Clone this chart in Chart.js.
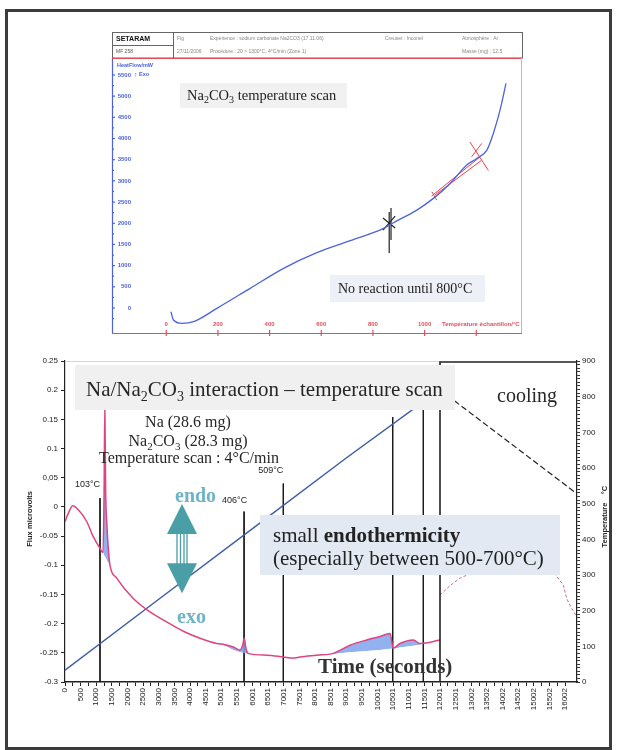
<!DOCTYPE html>
<html>
<head>
<meta charset="utf-8">
<title>Na/Na2CO3 interaction</title>
<script src="https://cdn.jsdelivr.net/npm/chart.js@4.4.1/dist/chart.umd.min.js"></script>
<style>
  html, body { margin: 0; padding: 0; background: #fff; }
  #page { position: relative; width: 620px; height: 750px; overflow: hidden; }
  #frame { position: absolute; left: 5px; top: 9px; width: 607px; height: 741px; border: 3px solid #3c3c3c; box-sizing: border-box; }
  #topChart { position: absolute; left: 100px; top: 28px; }
  #bottomChart { position: absolute; left: 0; top: 340px; }
</style>
</head>
<body>
<div id="page">
  <div id="frame"></div>
  <canvas id="topChart" width="430" height="316"></canvas>
  <canvas id="bottomChart" width="620" height="405"></canvas>
</div>
<script>
const SERIF = '"Liberation Serif", "Times New Roman", serif';
const SANS = '"Liberation Sans", Arial, sans-serif';

// ---- top chart: Na2CO3 temperature scan (heat flow vs sample temperature) ----
const scanTemp = [18, 28, 61, 106, 196, 325, 454, 583, 712, 841, 879, 970, 1034, 1099, 1163, 1202, 1241, 1266, 1292, 1315];
const scanFlow = [-87, -283, -362, -322, -8, 464, 936, 1305, 1588, 1880, 2013, 2311, 2587, 2940, 3373, 3530, 3726, 4120, 4670, 5300];
const scanYTicks = [0, 500, 1000, 1500, 2000, 2500, 3000, 3500, 4000, 4500, 5000, 5500];
const scanXTicks = [0, 200, 400, 600, 800, 1000, 1200];
const scanXLabels = ['0', '200', '400', '600', '800', '1000', ''];
// red tangent construction and black marker (temperature, heat flow) pairs
const redMarkT = [[1027, 1215], [1040, 1220], [1176, 1247], [1182, 1221], [1028, 1047]];
const redMarkV = [[2642, 3568], [2665, 3483], [3915, 3246], [3568, 3884], [2743, 2547]];
const blackMarkT = [[863, 863], [870, 870], [839, 886], [839, 886]];
const blackMarkV = [[2264, 1297], [2358, 1604], [2123, 1887], [1840, 2170]];

// ---- bottom chart: Na/Na2CO3 interaction ----
const fluxTime = [0, 106, 246, 426, 694, 896, 1120, 1216, 1250, 1275, 1300, 1340, 1390, 1440, 1654, 2186, 2720, 3254, 3786, 4320,
  4854, 5120, 5386, 5600, 5680, 5738, 5792, 5866, 6454, 6986, 7306, 7520, 8054, 8586, 9120, 9654, 10080, 10400, 10506, 10720, 11146, 11360, 12000];
const flux = [-0.025, -0.011, 0.002, -0.005, -0.025, -0.05, -0.071, -0.078, 0.02, 0.172, 0.03, -0.03, -0.075, -0.1, -0.122, -0.157, -0.18, -0.197, -0.213, -0.225,
  -0.234, -0.236, -0.240, -0.245, -0.238, -0.225, -0.243, -0.251, -0.254, -0.257, -0.259, -0.257, -0.254, -0.251, -0.237, -0.228, -0.222, -0.217, -0.242, -0.234, -0.228, -0.234, -0.228];
// baseline under the endothermic (blue) areas, null where there is no area
const fluxBase = [null, null, null, null, null, null, null, -0.078, -0.082, -0.085, -0.087, -0.091, -0.096, -0.1, null, null, null, null, null, null,
  -0.234, -0.238, -0.245, -0.249, -0.250, -0.251, -0.251, -0.251, null, null, null, -0.257, -0.255, -0.252, -0.249, -0.247, -0.245, -0.243, -0.243, -0.241, -0.238, -0.236, null];
const tempTime = [0, 3000, 6000, 9000, 12000];
const temp = [33, 232, 430, 628, 820];
const coolTime = [12000, 16380];
const coolTemp = [819, 528];
const coolFluxTime = [12000, 12320, 12640, 13600, 14600, 15616, 15946, 16054, 16214, 16340];
const coolFlux = [-0.151, -0.135, -0.122, -0.100, -0.095, -0.111, -0.134, -0.157, -0.174, -0.185];
const markerTime = [1120, 5730, 6986, 10486, 11466];
const markerTop = [0.015, -0.008, 0.040, 0.154, 0.169];
const fluxTicks = [0.25, 0.2, 0.15, 0.1, 0.05, 0, -0.05, -0.1, -0.15, -0.2, -0.25, -0.3];
const fluxTickLabels = ['0.25', '0.2', '0.15', '0.1', '0,05', '0', '-0.05', '-0.1', '-0.15', '-0.2', '-0.25', '-0.3'];
const tempTicks = [0, 100, 200, 300, 400, 500, 600, 700, 800, 900];
const timeTicks = [0, 500, 1000, 1500, 2000, 2500, 3000, 3500, 4000, 4501, 5001, 5501, 6001, 6501, 7001, 7501, 8001, 8501,
  9001, 9501, 10001, 10501, 11001, 11501, 12001, 12501, 13002, 13502, 14002, 14502, 15002, 15502, 16002];

const pts = (xs, ys) => xs.map((v, i) => ({ x: v, y: ys[i] }));

// draws text made of parts [text, style] where style is '', 'b' or 'sub'
function rich(ctx, x, y, parts, size, align) {
  const fontOf = s => (s === 'b' ? 'bold ' : '') + (s === 'sub' ? Math.round(size * 0.68) : size) + 'px ' + SERIF;
  let w = 0;
  parts.forEach(([t, s]) => { ctx.font = fontOf(s); w += ctx.measureText(t).width; });
  let cx = align === 'center' ? x - w / 2 : x;
  ctx.textAlign = 'left';
  ctx.textBaseline = 'alphabetic';
  parts.forEach(([t, s]) => {
    ctx.font = fontOf(s);
    ctx.fillText(t, cx, s === 'sub' ? y + size * 0.22 : y);
    cx += ctx.measureText(t).width;
  });
}

function line(ctx, x1, y1, x2, y2) {
  ctx.beginPath(); ctx.moveTo(x1, y1); ctx.lineTo(x2, y2); ctx.stroke();
}

// ---------- top chart ----------
const scanDecor = {
  id: 'scanDecor',
  beforeDatasetsDraw(chart) {
    const { ctx, chartArea: a, scales: { x, y } } = chart;
    ctx.save();
    // header table
    ctx.strokeStyle = '#666'; ctx.lineWidth = 1;
    ctx.strokeRect(a.left + 0.5, 4.5, a.right - a.left, a.top - 4.5);
    line(ctx, 73.5, 4, 73.5, a.top);
    line(ctx, a.left, 17.5, 73, 17.5);
    ctx.fillStyle = '#111'; ctx.font = 'bold 7px ' + SANS; ctx.textBaseline = 'middle'; ctx.textAlign = 'left';
    ctx.fillText('SETARAM', 16, 11);
    ctx.font = '5px ' + SANS; ctx.fillStyle = '#555';
    ctx.fillText('MF 258', 16, 24);
    ctx.fillStyle = '#888';
    ctx.fillText('Fig', 77, 11);
    ctx.fillText('27/11/2006', 77, 24);
    ctx.fillText('Expérience : sodium carbonate Na2CO3 (17.11.06)', 110, 11);
    ctx.fillText('Procédure : 20 > 1300°C, 4°C/min (Zone 1)', 110, 24);
    ctx.fillText('Creuset : Inconel', 285, 11);
    ctx.fillText('Atmosphère : Ar', 362, 11);
    ctx.fillText('Masse (mg) : 12.5', 362, 24);

    // left (heat flow) axis, blue
    ctx.strokeStyle = '#4c63d9'; ctx.lineWidth = 1.2;
    line(ctx, a.left + 0.5, a.top, a.left + 0.5, a.bottom);
    ctx.fillStyle = '#4c63d9'; ctx.font = 'bold 6px ' + SANS; ctx.textAlign = 'right'; ctx.textBaseline = 'middle';
    scanYTicks.forEach(v => {
      const py = y.getPixelForValue(v);
      line(ctx, a.left, py, a.left + 3, py);
      const pm = y.getPixelForValue(v - 250);
      line(ctx, a.left, pm, a.left + 2, pm);
      ctx.fillText(String(v), a.left + 19, py);
    });
    ctx.textAlign = 'left';
    ctx.font = 'bold 5.5px ' + SANS;
    ctx.fillText('HeatFlow/mW', a.left + 5, a.top + 7);
    ctx.font = 'bold 7px ' + SANS;
    ctx.fillText('\u2191', a.left + 22, y.getPixelForValue(5500));
    ctx.font = 'bold 5.5px ' + SANS;
    ctx.fillText('Exo', a.left + 27, y.getPixelForValue(5500));

    // bottom (temperature) axis and top edge, red
    ctx.strokeStyle = '#e0505a'; ctx.lineWidth = 1.2;
    line(ctx, a.left, a.bottom + 0.5, a.right, a.bottom + 0.5);
    line(ctx, a.left, a.top + 0.5, a.right, a.top + 0.5);
    ctx.fillStyle = '#e0505a'; ctx.font = 'bold 6px ' + SANS; ctx.textAlign = 'center';
    scanXTicks.forEach((v, i) => {
      const px = x.getPixelForValue(v);
      line(ctx, px, a.bottom - 3, px, a.bottom + 3);
      if (scanXLabels[i]) ctx.fillText(scanXLabels[i], px, a.bottom - 9);
    });
    ctx.textAlign = 'left';
    ctx.fillText('Température échantillon/°C', 342, a.bottom - 9);
    ctx.strokeStyle = '#bbb'; ctx.lineWidth = 1;
    line(ctx, a.right - 0.5, a.top, a.right - 0.5, a.bottom);

    // text boxes
    ctx.fillStyle = '#f1f1f1';
    ctx.fillRect(80, 55, 167, 25);
    ctx.fillStyle = '#edf0f6';
    ctx.fillRect(230, 247, 155, 27);
    ctx.fillStyle = '#222';
    rich(ctx, 87, 72, [['Na'], ['2', 'sub'], ['CO'], ['3', 'sub'], [' temperature scan']], 14.5);
    rich(ctx, 238, 265, [['No reaction until 800°C']], 14);
    ctx.restore();
  }
};

const scanSets = [{
  data: pts(scanTemp, scanFlow), borderColor: '#4a64dc', borderWidth: 1.3, pointRadius: 0, cubicInterpolationMode: 'monotone'
}];
redMarkT.forEach((t, i) => scanSets.push({ data: pts(t, redMarkV[i]), borderColor: '#e8414a', borderWidth: 1, pointRadius: 0 }));
blackMarkT.forEach((t, i) => scanSets.push({ data: pts(t, blackMarkV[i]), borderColor: '#222', borderWidth: 1.2, pointRadius: 0 }));

new Chart(document.getElementById('topChart'), {
  type: 'line',
  data: { datasets: scanSets },
  options: {
    responsive: false,
    animation: false,
    layout: { padding: { left: 12, right: 8, top: 30, bottom: 11 } },
    plugins: { legend: { display: false }, tooltip: { enabled: false } },
    scales: {
      x: { type: 'linear', min: -210, max: 1377, display: false },
      y: { type: 'linear', min: -590, max: 5900, display: false }
    }
  },
  plugins: [scanDecor]
});

// ---------- bottom chart ----------
const bottomDecor = {
  id: 'bottomDecor',
  afterDatasetsDraw(chart) {
    const { ctx, chartArea: a, scales: { x, y } } = chart;
    const X = v => x.getPixelForValue(v), Y = v => y.getPixelForValue(v);
    ctx.save();
    // faint top edge, cooling panel frame
    ctx.strokeStyle = '#d4d4d4'; ctx.lineWidth = 1;
    line(ctx, a.left, a.top + 0.5, X(12000), a.top + 0.5);
    ctx.strokeStyle = '#222'; ctx.lineWidth = 1.6;
    ctx.beginPath(); ctx.moveTo(X(12000), a.bottom); ctx.lineTo(X(12000), a.top + 1); ctx.lineTo(a.right, a.top + 1); ctx.stroke();

    // title box
    ctx.fillStyle = '#f0f0f0';
    ctx.fillRect(75, 25, 380, 45);
    ctx.fillStyle = '#262626';
    rich(ctx, 86, 56, [['Na/Na'], ['2', 'sub'], ['CO'], ['3', 'sub'], [' interaction \u2013 temperature scan']], 21);
    rich(ctx, 188, 87, [['Na (28.6 mg)']], 16, 'center');
    rich(ctx, 188, 106, [['Na'], ['2', 'sub'], ['CO'], ['3', 'sub'], [' (28.3 mg)']], 16, 'center');
    rich(ctx, 189, 123, [['Temperature scan : 4°C/min']], 16, 'center');
    rich(ctx, 497, 62, [['cooling']], 20);

    // labels of the vertical markers
    ctx.font = '9px ' + SANS; ctx.fillStyle = '#222'; ctx.textBaseline = 'alphabetic';
    ctx.textAlign = 'right';
    ctx.fillText('103°C', X(1120), 147);
    ctx.fillText('509°C', X(6986), 133);
    ctx.textAlign = 'left';
    ctx.fillText('406°C', X(5730) - 22, 163);

    // endo / exo double arrow
    const cx = X(3744), top = Y(0.005), bot = Y(-0.148), hh = 30, hw = 15;
    ctx.fillStyle = '#4a9ea6';
    ctx.beginPath(); ctx.moveTo(cx, top); ctx.lineTo(cx + hw, top + hh); ctx.lineTo(cx - hw, top + hh); ctx.closePath(); ctx.fill();
    ctx.beginPath(); ctx.moveTo(cx, bot); ctx.lineTo(cx + hw, bot - hh); ctx.lineTo(cx - hw, bot - hh); ctx.closePath(); ctx.fill();
    ctx.strokeStyle = '#4a9ea6'; ctx.lineWidth = 1.3;
    [-5, -1.5, 2, 5].forEach(d => line(ctx, cx + d, top + hh - 1, cx + d, bot - hh + 1));
    ctx.fillStyle = '#6db4c8';
    rich(ctx, 175, 162, [['endo', 'b']], 20);
    rich(ctx, 177, 283, [['exo', 'b']], 20);

    // endothermicity box
    ctx.fillStyle = '#e3e9f2';
    ctx.fillRect(260, 175, 300, 60);
    ctx.fillStyle = '#222';
    rich(ctx, 273, 202, [['small '], ['endothermicity', 'b']], 21);
    rich(ctx, 273, 225, [['(especially between 500-700°C)']], 21);

    ctx.fillStyle = '#333';
    rich(ctx, 318, 333, [['Time (seconds)', 'b']], 21);

    // axis titles
    ctx.fillStyle = '#222'; ctx.font = 'bold 7.5px ' + SANS; ctx.textAlign = 'center'; ctx.textBaseline = 'middle';
    [['microvolts', 30, 170], ['Flux', 30, 199], ['Temperature', 605, 185], ['°C', 605, 150]].forEach(([t, tx, ty]) => {
      ctx.save(); ctx.translate(tx, ty); ctx.rotate(-Math.PI / 2); ctx.fillText(t, 0, 0); ctx.restore();
    });
    ctx.restore();
  }
};

const bottomSets = [
  { data: pts(fluxTime, fluxBase), borderColor: 'rgba(0,0,0,0)', borderWidth: 1, pointRadius: 0, yAxisID: 'y', spanGaps: false },
  { data: pts(fluxTime, flux), borderColor: '#e0437f', borderWidth: 1.5, pointRadius: 0, yAxisID: 'y', cubicInterpolationMode: 'monotone',
    fill: { target: 0, above: 'rgba(126,163,236,0.85)', below: 'rgba(0,0,0,0)' } },
  { data: pts(tempTime, temp), borderColor: '#3f5ea8', borderWidth: 1.5, pointRadius: 0, yAxisID: 'yT' },
  { data: pts(coolTime, coolTemp), borderColor: '#222', borderWidth: 1.2, borderDash: [6, 3], pointRadius: 0, yAxisID: 'yT' },
  { data: pts(coolFluxTime, coolFlux), borderColor: '#e06088', borderWidth: 1, borderDash: [3, 2], pointRadius: 0, yAxisID: 'y' }
];
markerTime.forEach((t, i) => bottomSets.push({
  data: [{ x: t, y: markerTop[i] }, { x: t, y: -0.3 }], borderColor: '#1a1a1a', borderWidth: 1, pointRadius: 0, yAxisID: 'y'
}));

const timeLabel = new Map(timeTicks.map(v => [v, String(v)]));
const axisFont = { family: SANS, size: 8 };

new Chart(document.getElementById('bottomChart'), {
  type: 'line',
  data: { datasets: bottomSets },
  options: {
    responsive: false,
    animation: false,
    layout: { padding: { top: 21, left: 0, right: 0, bottom: 0 } },
    plugins: { legend: { display: false }, tooltip: { enabled: false } },
    scales: {
      x: {
        type: 'linear', min: 0, max: 16384,
        afterBuildTicks: s => {
          const all = [];
          timeTicks.forEach((v, i) => {
            all.push({ value: v });
            if (i < timeTicks.length - 1) all.push({ value: (v + timeTicks[i + 1]) / 2 });
          });
          s.ticks = all;
        },
        afterFit: s => { s.height = 63; },
        ticks: { autoSkip: false, minRotation: 90, maxRotation: 90, font: axisFont, color: '#222', padding: 2,
          callback: v => timeLabel.has(v) ? timeLabel.get(v) : '' },
        grid: { drawOnChartArea: false, color: '#222', tickLength: 4 },
        border: { color: '#222', width: 1.5 }
      },
      y: {
        type: 'linear', position: 'left', min: -0.3, max: 0.25,
        afterBuildTicks: s => { s.ticks = fluxTicks.map(v => ({ value: v })); },
        afterFit: s => { s.width = 65; },
        ticks: { font: axisFont, color: '#222', padding: 3,
          callback: (v, i) => fluxTickLabels[i] },
        grid: { drawOnChartArea: false, color: '#222', tickLength: 4 },
        border: { color: '#222', width: 1.2 }
      },
      yT: {
        type: 'linear', position: 'right', min: 0, max: 900,
        afterBuildTicks: s => {
          const all = [];
          for (let v = 0; v <= 900; v += 10) all.push({ value: v });
          s.ticks = all;
        },
        afterFit: s => { s.width = 43; },
        ticks: { autoSkip: false, font: axisFont, color: '#222', padding: 2,
          callback: v => tempTicks.includes(v) ? String(v) : '' },
        grid: { drawOnChartArea: false, color: '#333', tickLength: 3 },
        border: { color: '#222', width: 1.2 }
      }
    }
  },
  plugins: [bottomDecor]
});
</script>
</body>
</html>
